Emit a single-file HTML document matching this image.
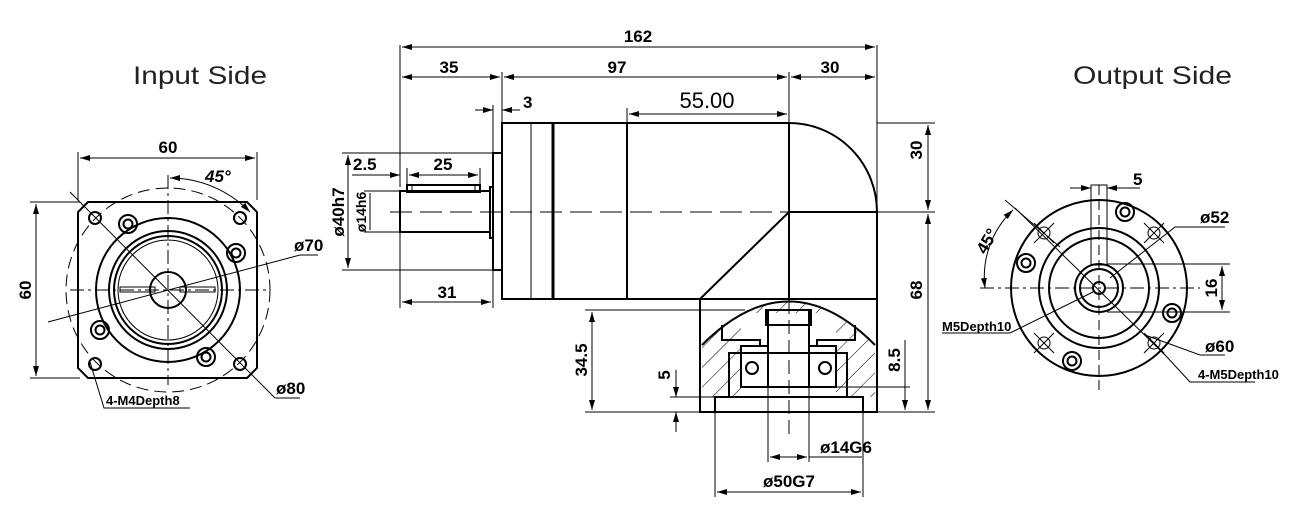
<!DOCTYPE html>
<html><head><meta charset="utf-8"><style>
html,body{margin:0;padding:0;background:#fff;width:1300px;height:512px;overflow:hidden}
svg{display:block}
text{font-family:"Liberation Sans",sans-serif;fill:#000}
.d{font-size:17px;font-weight:bold}
</style></head><body>
<svg width="1300" height="512" viewBox="0 0 1300 512" xmlns="http://www.w3.org/2000/svg">
<defs>
<marker id="a" viewBox="0 0 10 6" refX="10" refY="3" markerWidth="10" markerHeight="6" orient="auto-start-reverse" markerUnits="userSpaceOnUse"><path d="M0,0 L10,3 L0,6 z" fill="#000"/></marker>
<pattern id="h" width="14" height="14" patternUnits="userSpaceOnUse" patternTransform="rotate(45)"><line x1="0" y1="0" x2="0" y2="14" stroke="#000" stroke-width="1"/></pattern>
</defs>
<g stroke="#000" fill="none" stroke-width="1">
<!-- titles -->
<text x="133" y="84" textLength="134" lengthAdjust="spacingAndGlyphs" style="font-size:25px;fill:#222;stroke:none">Input Side</text>
<text x="1073" y="84" textLength="159" lengthAdjust="spacingAndGlyphs" style="font-size:25px;fill:#222;stroke:none">Output Side</text>

<!-- INPUT VIEW -->
<path d="M88,202 L247,202 L257,212 L257,368 L247,378 L88,378 L78,368 L78,212 Z" stroke-width="2"/>
<circle cx="168" cy="290" r="102" stroke-dasharray="12,6"/>
<circle cx="168" cy="290" r="72" stroke-width="2"/>
<circle cx="168" cy="290" r="59" stroke-width="2"/>
<circle cx="168" cy="290" r="54" stroke-width="2"/>
<circle cx="168" cy="290" r="50"/>
<circle cx="168" cy="290" r="18" stroke-width="2"/>
<rect x="120" y="287" width="35" height="5"/><rect x="180" y="287" width="35" height="5"/>
<g stroke-width="2">
<circle cx="95" cy="218" r="6"/><circle cx="240" cy="218" r="6"/><circle cx="95" cy="364" r="6"/><circle cx="240" cy="364" r="6"/>
<circle cx="128" cy="224" r="9"/><circle cx="128" cy="224" r="4.5"/>
<circle cx="236" cy="253" r="9"/><circle cx="236" cy="253" r="4.5"/>
<circle cx="100" cy="330" r="9"/><circle cx="100" cy="330" r="4.5"/>
<circle cx="206" cy="357" r="9"/><circle cx="206" cy="357" r="4.5"/>
</g>
<line x1="168" y1="175" x2="168" y2="385" stroke-dasharray="14,4,3,4"/>
<line x1="70" y1="290" x2="270" y2="290" stroke-dasharray="14,4,3,4"/>
<line x1="70" y1="192" x2="275" y2="398"/>
<line x1="48" y1="322" x2="300" y2="255"/><line x1="300" y1="255" x2="318" y2="255"/>
<line x1="275" y1="398" x2="300" y2="398"/>
<line x1="78" y1="200" x2="78" y2="152"/><line x1="257" y1="200" x2="257" y2="152"/>
<line x1="80" y1="158" x2="255" y2="158" marker-start="url(#a)" marker-end="url(#a)"/>
<line x1="30" y1="202" x2="80" y2="202"/><line x1="30" y1="378" x2="80" y2="378"/>
<line x1="36" y1="204" x2="36" y2="376" marker-start="url(#a)" marker-end="url(#a)"/>
<path d="M170,178 A112,112 0 0 1 250,212" marker-start="url(#a)" marker-end="url(#a)"/>
<path d="M90,362 L104,408 L190,408"/>
<text class="d" x="168" y="153" text-anchor="middle" stroke="none">60</text>
<text class="d" x="0" y="0" text-anchor="middle" stroke="none" transform="translate(31,290) rotate(-90)">60</text>
<text class="d" x="205" y="182" stroke="none" font-style="italic">45°</text>
<text class="d" x="294" y="251" stroke="none">ø70</text>
<text class="d" x="276" y="394" stroke="none">ø80</text>
<text x="106" y="405" stroke="none" style="font-size:13px;font-weight:bold">4-M4Depth8</text>

<!-- MIDDLE VIEW -->
<line x1="400" y1="45" x2="400" y2="187"/><line x1="877" y1="45" x2="877" y2="300"/>
<line x1="502" y1="72" x2="502" y2="123"/><line x1="789" y1="72" x2="789" y2="123"/>
<line x1="402" y1="47" x2="875" y2="47" marker-start="url(#a)" marker-end="url(#a)"/>
<line x1="402" y1="77" x2="500" y2="77" marker-start="url(#a)" marker-end="url(#a)"/>
<line x1="504" y1="77" x2="787" y2="77" marker-start="url(#a)" marker-end="url(#a)"/>
<line x1="791" y1="77" x2="875" y2="77" marker-start="url(#a)" marker-end="url(#a)"/>
<text class="d" x="638" y="42" text-anchor="middle" stroke="none">162</text>
<text class="d" x="449" y="73" text-anchor="middle" stroke="none">35</text>
<text class="d" x="617" y="73" text-anchor="middle" stroke="none">97</text>
<text class="d" x="830" y="73" text-anchor="middle" stroke="none">30</text>
<line x1="493" y1="105" x2="493" y2="153"/>
<line x1="475" y1="110" x2="493" y2="110" marker-end="url(#a)"/><line x1="520" y1="110" x2="502" y2="110" marker-end="url(#a)"/>
<text class="d" x="523" y="108" stroke="none">3</text>
<line x1="627" y1="108" x2="627" y2="123"/>
<line x1="629" y1="114" x2="787" y2="114" marker-start="url(#a)" marker-end="url(#a)"/>
<text x="707" y="108" text-anchor="middle" stroke="none" style="font-size:22px">55.00</text>
<g stroke-width="2">
<rect x="502" y="123" width="287" height="176"/>
<rect x="493" y="153" width="9" height="117"/>
<rect x="490" y="187" width="3" height="51"/>
<rect x="400" y="191" width="90" height="41"/>
<rect x="407" y="185" width="73" height="7"/>
<path d="M789,123 A88,89 0 0 1 877,212 L877,299 L789,299"/>
<line x1="789" y1="212" x2="877" y2="212"/>
<line x1="789" y1="212" x2="700" y2="299"/>
<line x1="553" y1="123" x2="553" y2="299" stroke-width="3"/>
<line x1="627" y1="123" x2="627" y2="299"/>
</g>
<line x1="531" y1="123" x2="531" y2="299"/>
<line x1="412" y1="185" x2="412" y2="192"/><line x1="475" y1="185" x2="475" y2="192"/>
<line x1="390" y1="212" x2="790" y2="212" stroke-dasharray="22,8"/>
<line x1="342" y1="153" x2="493" y2="153"/><line x1="342" y1="270" x2="493" y2="270"/>
<line x1="348" y1="155" x2="348" y2="268" marker-start="url(#a)" marker-end="url(#a)"/>
<line x1="364" y1="191" x2="400" y2="191"/><line x1="364" y1="232" x2="400" y2="232"/>
<line x1="370" y1="193" x2="370" y2="230"/>
<text class="d" x="0" y="0" text-anchor="middle" stroke="none" transform="translate(344,212) rotate(-90)">ø40h7</text>
<text class="d" x="0" y="0" text-anchor="middle" stroke="none" transform="translate(366,212) rotate(-90)" style="font-size:14px">ø14h6</text>
<line x1="407" y1="168" x2="407" y2="185"/><line x1="480" y1="168" x2="480" y2="185"/>
<line x1="352" y1="175" x2="400" y2="175" marker-end="url(#a)"/>
<line x1="409" y1="175" x2="478" y2="175" marker-start="url(#a)" marker-end="url(#a)"/>
<text class="d" x="353" y="170" stroke="none">2.5</text>
<text class="d" x="443" y="170" text-anchor="middle" stroke="none">25</text>
<line x1="400" y1="232" x2="400" y2="308"/><line x1="493" y1="270" x2="493" y2="308"/>
<line x1="402" y1="302" x2="491" y2="302" marker-start="url(#a)" marker-end="url(#a)"/>
<text class="d" x="447" y="298" text-anchor="middle" stroke="none">31</text>
<line x1="877" y1="123" x2="935" y2="123"/><line x1="877" y1="212" x2="935" y2="212"/>
<line x1="928" y1="125" x2="928" y2="210" marker-start="url(#a)" marker-end="url(#a)"/>
<line x1="928" y1="214" x2="928" y2="410" marker-start="url(#a)" marker-end="url(#a)"/>
<text class="d" x="0" y="0" text-anchor="middle" stroke="none" transform="translate(922,150) rotate(-90)">30</text>
<text class="d" x="0" y="0" text-anchor="middle" stroke="none" transform="translate(922,290) rotate(-90)">68</text>

<!-- lower block -->
<path d="M702,345 Q789,258 875,345 L875,397 L702,397 Z" fill="url(#h)" stroke="none"/>
<rect x="741" y="313" width="95" height="84" fill="#fff" stroke="none"/>
<g stroke-width="2">
<rect x="700" y="299" width="177" height="113"/>
<path d="M702,345 Q789,258 875,345"/>
<rect x="715" y="397" width="148" height="15"/>
<rect x="768" y="310" width="41" height="77"/>
<rect x="766" y="310" width="45" height="15"/>
<rect x="729" y="353" width="118" height="44"/>
<rect x="741" y="346" width="27" height="41"/>
<rect x="809" y="346" width="27" height="41"/>
<circle cx="752" cy="368" r="6"/><circle cx="825" cy="368" r="6"/>
<path d="M722,325 L722,340 L760,340 L760,346 M855,325 L855,340 L817,340 L817,346"/>
</g>
<line x1="789" y1="300" x2="789" y2="440" stroke-dasharray="14,6"/>
<line x1="585" y1="310" x2="745" y2="310"/><line x1="585" y1="412" x2="700" y2="412"/>
<line x1="592" y1="312" x2="592" y2="410" marker-start="url(#a)" marker-end="url(#a)"/>
<text class="d" x="0" y="0" text-anchor="middle" stroke="none" transform="translate(587,360) rotate(-90)">34.5</text>
<line x1="670" y1="397" x2="715" y2="397"/>
<line x1="676" y1="370" x2="676" y2="397" marker-end="url(#a)"/><line x1="676" y1="432" x2="676" y2="412" marker-end="url(#a)"/>
<text class="d" x="0" y="0" text-anchor="middle" stroke="none" transform="translate(670,375) rotate(-90)">5</text>
<line x1="836" y1="387" x2="910" y2="387"/><line x1="877" y1="412" x2="935" y2="412"/>
<line x1="905" y1="340" x2="905" y2="410" marker-end="url(#a)"/>
<text class="d" x="0" y="0" text-anchor="middle" stroke="none" transform="translate(900,360) rotate(-90)">8.5</text>
<line x1="768" y1="387" x2="768" y2="462"/><line x1="809" y1="387" x2="809" y2="462"/>
<line x1="770" y1="457" x2="807" y2="457" marker-start="url(#a)" marker-end="url(#a)"/>
<line x1="809" y1="457" x2="862" y2="457"/>
<text class="d" x="820" y="453" stroke="none">ø14G6</text>
<line x1="715" y1="412" x2="715" y2="497"/><line x1="863" y1="412" x2="863" y2="497"/>
<line x1="717" y1="492" x2="861" y2="492" marker-start="url(#a)" marker-end="url(#a)"/>
<text class="d" x="789" y="487" text-anchor="middle" stroke="none">ø50G7</text>

<!-- OUTPUT VIEW -->
<g stroke-width="2">
<circle cx="1099" cy="288" r="88"/>
<circle cx="1099" cy="288" r="60"/>
<circle cx="1099" cy="288" r="50"/>
<circle cx="1099" cy="288" r="24"/>
<circle cx="1099" cy="288" r="19"/>
<circle cx="1099" cy="288" r="6"/>
<circle cx="1125" cy="212" r="9"/><circle cx="1125" cy="212" r="4.5"/>
<circle cx="1026" cy="263" r="9"/><circle cx="1026" cy="263" r="4.5"/>
<circle cx="1172" cy="313" r="9"/><circle cx="1172" cy="313" r="4.5"/>
<circle cx="1072" cy="361" r="9"/><circle cx="1072" cy="361" r="4.5"/>
</g>
<g>
<circle cx="1044" cy="233" r="6"/><circle cx="1154" cy="233" r="6"/><circle cx="1044" cy="343" r="6"/><circle cx="1154" cy="343" r="6"/>
<path d="M1034,223 l20,20 M1054,223 l-20,20 M1144,223 l20,20 M1164,223 l-20,20 M1034,333 l20,20 M1054,333 l-20,20 M1144,333 l20,20 M1164,333 l-20,20"/>
</g>
<line x1="1099" y1="185" x2="1099" y2="390" stroke-dasharray="10,5"/>
<line x1="980" y1="288" x2="1200" y2="288" stroke-dasharray="14,4,3,4"/>
<rect x="1091" y="185" width="16" height="80"/>
<line x1="1015" y1="208" x2="1165" y2="355"/>
<line x1="1005" y1="200" x2="1060" y2="247"/>
<line x1="1107" y1="264" x2="1230" y2="264"/><line x1="1107" y1="312" x2="1230" y2="312"/>
<line x1="1222" y1="266" x2="1222" y2="310" marker-start="url(#a)" marker-end="url(#a)"/>
<text class="d" x="0" y="0" text-anchor="middle" stroke="none" transform="translate(1217,288) rotate(-90)">16</text>
<line x1="1070" y1="188" x2="1091" y2="188" marker-end="url(#a)"/><line x1="1140" y1="188" x2="1107" y2="188" marker-end="url(#a)"/>
<text class="d" x="1133" y="185" stroke="none">5</text>
<path d="M1110,278 L1175,227 L1225,227"/>
<text class="d" x="1200" y="223" stroke="none">ø52</text>
<path d="M1145,335 L1200,355 L1225,355"/>
<text class="d" x="1205" y="352" stroke="none">ø60</text>
<path d="M1154,343 L1190,382 L1255,382"/>
<text x="1198" y="379" stroke="none" style="font-size:13px;font-weight:bold">4-M5Depth10</text>
<path d="M1093,292 L1010,333 L942,333"/>
<text x="942" y="331" stroke="none" style="font-size:13px;font-weight:bold">M5Depth10</text>
<path d="M1013,210 A92,92 0 0 0 985,288" marker-start="url(#a)" marker-end="url(#a)"/>
<text class="d" x="0" y="0" text-anchor="middle" stroke="none" transform="translate(992,244) rotate(-60)">45°</text>
</g>
</svg>
</body></html>
